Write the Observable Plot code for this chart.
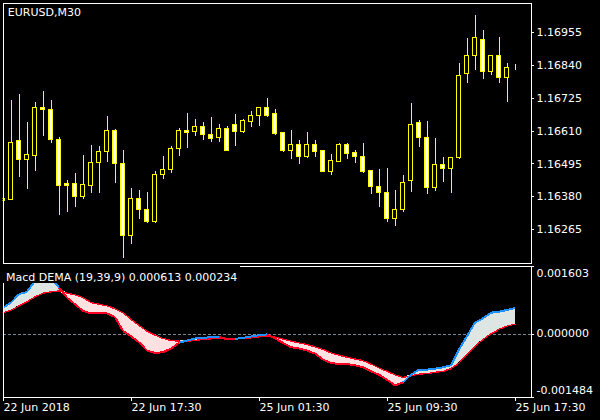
<!DOCTYPE html>
<html><head><meta charset="utf-8">
<script src="https://cdn.jsdelivr.net/npm/d3@7"></script>
<script src="https://cdn.jsdelivr.net/npm/@observablehq/plot@0.6"></script>
<style>
html,body{margin:0;padding:0;background:#000;}
#wrap{position:relative;width:600px;height:420px;background:#000;overflow:hidden;}
#wrap svg{position:absolute;left:0;}
#wrap svg path,#wrap svg line,#wrap svg rect{shape-rendering:crispEdges;}
#sub{position:absolute;left:3px;top:266px;height:17px;box-sizing:border-box;padding:5.4px 3px 0 3px;line-height:11px;background:#000;color:#fff;font:11px "DejaVu Sans",sans-serif;white-space:nowrap;}
</style></head><body><div id="wrap"></div>
<script>
// ---- data (bar 0 is partly hidden under the left frame) ----
const open  = [1.16366,1.16368,1.16574,1.16508,1.16522,1.16690,1.16686,1.16580,1.16426,1.16426,1.16379,1.16419,1.16499,1.16538,1.16612,1.16496,1.16242,1.16373,1.16334,1.16291,1.16457,1.16475,1.16548,1.16612,1.16606,1.16626,1.16595,1.16587,1.16619,1.16633,1.16606,1.16641,1.16662,1.16690,1.16669,1.16602,1.16540,1.16563,1.16519,1.16563,1.16539,1.16466,1.16501,1.16560,1.16532,1.16521,1.16469,1.16416,1.16395,1.16301,1.16334,1.16436,1.16637,1.16587,1.16412,1.16493,1.16478,1.16517,1.16809,1.16875,1.16931,1.16819,1.16875,1.16798,1.16833];
const high  = [1.16374,1.16718,1.16739,1.16641,1.16711,1.16749,1.16718,1.16588,1.16437,1.16462,1.16525,1.16560,1.16556,1.16662,1.16616,1.16542,1.16410,1.16402,1.16395,1.16468,1.16521,1.16556,1.16619,1.16672,1.16651,1.16641,1.16658,1.16633,1.16626,1.16669,1.16651,1.16679,1.16690,1.16725,1.16686,1.16605,1.16612,1.16577,1.16605,1.16577,1.16539,1.16528,1.16567,1.16567,1.16542,1.16567,1.16472,1.16476,1.16479,1.16402,1.16455,1.16707,1.16648,1.16644,1.16584,1.16518,1.16518,1.16847,1.16935,1.17016,1.16963,1.16875,1.16938,1.16847,1.16844];
const low   = [1.16358,1.16368,1.16449,1.16406,1.16470,1.16591,1.16568,1.16315,1.16326,1.16344,1.16369,1.16393,1.16393,1.16499,1.16426,1.16165,1.16214,1.16299,1.16287,1.16287,1.16442,1.16463,1.16522,1.16550,1.16592,1.16577,1.16570,1.16570,1.16539,1.16557,1.16603,1.16623,1.16626,1.16658,1.16596,1.16536,1.16512,1.16494,1.16515,1.16519,1.16466,1.16455,1.16501,1.16512,1.16498,1.16463,1.16389,1.16344,1.16291,1.16277,1.16324,1.16396,1.16552,1.16387,1.16398,1.16429,1.16391,1.16512,1.16777,1.16823,1.16791,1.16805,1.16777,1.16711,1.16823];
const close = [1.16371,1.16570,1.16508,1.16525,1.16690,1.16684,1.16580,1.16419,1.16417,1.16379,1.16422,1.16499,1.16538,1.16612,1.16496,1.16242,1.16373,1.16334,1.16291,1.16457,1.16475,1.16548,1.16612,1.16604,1.16626,1.16595,1.16583,1.16619,1.16539,1.16606,1.16644,1.16665,1.16690,1.16665,1.16599,1.16540,1.16563,1.16519,1.16563,1.16536,1.16466,1.16504,1.16560,1.16529,1.16519,1.16466,1.16414,1.16393,1.16301,1.16335,1.16429,1.16633,1.16587,1.16412,1.16493,1.16478,1.16517,1.16805,1.16875,1.16935,1.16819,1.16875,1.16798,1.16833,1.16833];
const macd   = [0.000621,0.000740,0.000939,0.000993,0.001254,0.001350,0.001325,0.001095,0.000858,0.000702,0.000543,0.000488,0.000488,0.000484,0.000401,0.000069,-0.000050,-0.000192,-0.000389,-0.000446,-0.000429,-0.000341,-0.000209,-0.000152,-0.000104,-0.000090,-0.000073,-0.000073,-0.000121,-0.000114,-0.000090,-0.000057,-0.000026,-0.000009,-0.000104,-0.000209,-0.000311,-0.000341,-0.000389,-0.000460,-0.000602,-0.000683,-0.000707,-0.000707,-0.000737,-0.000785,-0.000880,-0.000958,-0.001076,-0.001212,-0.001140,-0.000958,-0.000839,-0.000839,-0.000816,-0.000785,-0.000737,-0.000365,-0.000050,0.000266,0.000370,0.000503,0.000526,0.000567,0.000613];
const signal = [0.000503,0.000560,0.000662,0.000763,0.000875,0.000963,0.000993,0.001017,0.000963,0.000922,0.000858,0.000740,0.000702,0.000662,0.000597,0.000503,0.000346,0.000204,0.000069,-0.000026,-0.000104,-0.000152,-0.000168,-0.000168,-0.000152,-0.000128,-0.000114,-0.000090,-0.000104,-0.000097,-0.000104,-0.000090,-0.000066,-0.000043,-0.000073,-0.000121,-0.000168,-0.000209,-0.000247,-0.000303,-0.000365,-0.000446,-0.000500,-0.000548,-0.000588,-0.000626,-0.000707,-0.000801,-0.000880,-0.000958,-0.001022,-0.000982,-0.000944,-0.000934,-0.000903,-0.000880,-0.000816,-0.000683,-0.000484,-0.000287,-0.000128,0.000005,0.000109,0.000187,0.000234];
const priceTicks = [1.16265,1.16380,1.16495,1.16610,1.16725,1.16840,1.16955];
const priceDomain = [1.161479,1.170594];
const macdTicks = [-0.001484,0,0.001603];
const timeTicks = [-1,15,31,47,63];
const timeLabels = ["22 Jun 2018","22 Jun 17:30","25 Jun 01:30","25 Jun 09:30","25 Jun 17:30"];
const symbolTitle = "EURUSD,M30";
const indName = "Macd DEMA (19,39,9)";

// ---- build ----
const FONT = "DejaVu Sans, sans-serif";
const YEL = "#ffff00", RED = "#ff0022", BLUE = "#1e90ff";
const idx = open.map((_, k) => k - 1);
const xDomain = [-1, 65];
const candles = idx.map((i, k) => ({i, o: open[k], h: high[k], l: low[k], c: close[k]}));
const wrap = document.getElementById("wrap");

const main = Plot.plot({
  width: 600, height: 264,
  marginLeft: 2.5, marginRight: 69.5, marginTop: 2.5, marginBottom: 1.5,
  style: {background: "#000", color: "#fff", fontFamily: FONT, fontSize: "11px"},
  x: {domain: xDomain, axis: null},
  y: {domain: priceDomain, axis: null},
  color: {type: "identity"},
  marks: [
    Plot.ruleX(candles, {x: "i", y1: "l", y2: "h", stroke: YEL, strokeWidth: 1, clip: true}),
    Plot.rect(candles, {x1: d => d.i - 0.25, x2: d => d.i + 0.25, y1: "o", y2: "c",
      fill: d => d.c < d.o ? "#ffffff" : "#000000", stroke: YEL, strokeWidth: 1, clip: true}),
    Plot.frame({stroke: "#fff"}),
    Plot.ruleY(priceTicks, {y: d => d, x1: 65, x2: 65.45, stroke: "#fff"}),
    Plot.text(priceTicks, {y: d => d, x: 65, text: d => d.toFixed(5), dx: 5.5, textAnchor: "start",
      fill: "#fff", fontSize: 11, fontFamily: FONT}),
    Plot.text([symbolTitle], {frameAnchor: "top-left", text: d => d, dx: 4.8, dy: 5.2, lineAnchor: "top",
      textAnchor: "start", fill: "#fff", fontSize: 11, fontFamily: FONT})
  ]
});
main.style.top = "0px";
wrap.appendChild(main);

const rows = idx.map((i, k) => ({i, m: macd[k], s: signal[k],
  hi: Math.max(macd[k], signal[k]), lo: Math.min(macd[k], signal[k])}));
const segs = d3.pairs(rows).map(([a, b]) => ({a, b, up: b.m >= b.s}));
const H2 = 156, MT2 = 1.5, MB2 = 23.5;

const lower = Plot.plot({
  width: 600, height: H2,
  marginLeft: 2.5, marginRight: 69.5, marginTop: MT2, marginBottom: MB2,
  style: {background: "#000", color: "#fff", fontFamily: FONT, fontSize: "11px"},
  x: {domain: xDomain, axis: null},
  y: {domain: [macdTicks[0], macdTicks[2]], axis: null},
  color: {type: "identity"},
  marks: [
    Plot.ruleY([0], {stroke: "#778899", strokeDasharray: "3,2"}),
    Plot.areaY(rows, {x: "i", y1: "s", y2: "hi", fill: "#dde6e3", clip: true}),
    Plot.areaY(rows, {x: "i", y1: "s", y2: "lo", fill: "#ffe1e1", clip: true}),
    Plot.line(rows, {x: "i", y: "s", stroke: RED, strokeWidth: 1.3, clip: true}),
    Plot.link(segs, {x1: d => d.a.i, y1: d => d.a.m, x2: d => d.b.i, y2: d => d.b.m,
      stroke: d => d.up ? BLUE : RED, strokeWidth: 2, clip: true}),
    Plot.frame({stroke: "#fff"}),
    Plot.ruleY(macdTicks, {y: d => d, x1: 65, x2: 65.45, stroke: "#fff"}),
    Plot.text([macdTicks[2]], {y: d => d, x: 65, text: d => d.toFixed(6), dx: 5.5, dy: 7, textAnchor: "start", fill: "#fff", fontSize: 11, fontFamily: FONT}),
    Plot.text([macdTicks[1]], {y: d => d, x: 65, text: d => d.toFixed(6), dx: 5.5, dy: -0.8, textAnchor: "start", fill: "#fff", fontSize: 11, fontFamily: FONT}),
    Plot.text([macdTicks[0]], {y: d => d, x: 65, text: d => d.toFixed(6), dx: 5.5, dy: -6.8, textAnchor: "start", fill: "#fff", fontSize: 11, fontFamily: FONT}),
    Plot.ruleX(timeTicks, {x: d => d, insetTop: H2 - MT2 - MB2, insetBottom: -4.5, stroke: "#fff"}),
    Plot.text(timeTicks, {x: d => d, text: (d, k) => timeLabels[k], frameAnchor: "bottom", lineAnchor: "top",
      textAnchor: "start", dx: 0.5, dy: 6.4, fill: "#fff", fontSize: 11, fontFamily: FONT})
  ]
});
lower.style.top = "264px";
wrap.appendChild(lower);

const sub = document.createElement("div");
sub.id = "sub";
sub.textContent = `${indName} ${macd[macd.length - 1].toFixed(6)} ${signal[signal.length - 1].toFixed(6)}`;
wrap.appendChild(sub);
</script>
</body></html>
